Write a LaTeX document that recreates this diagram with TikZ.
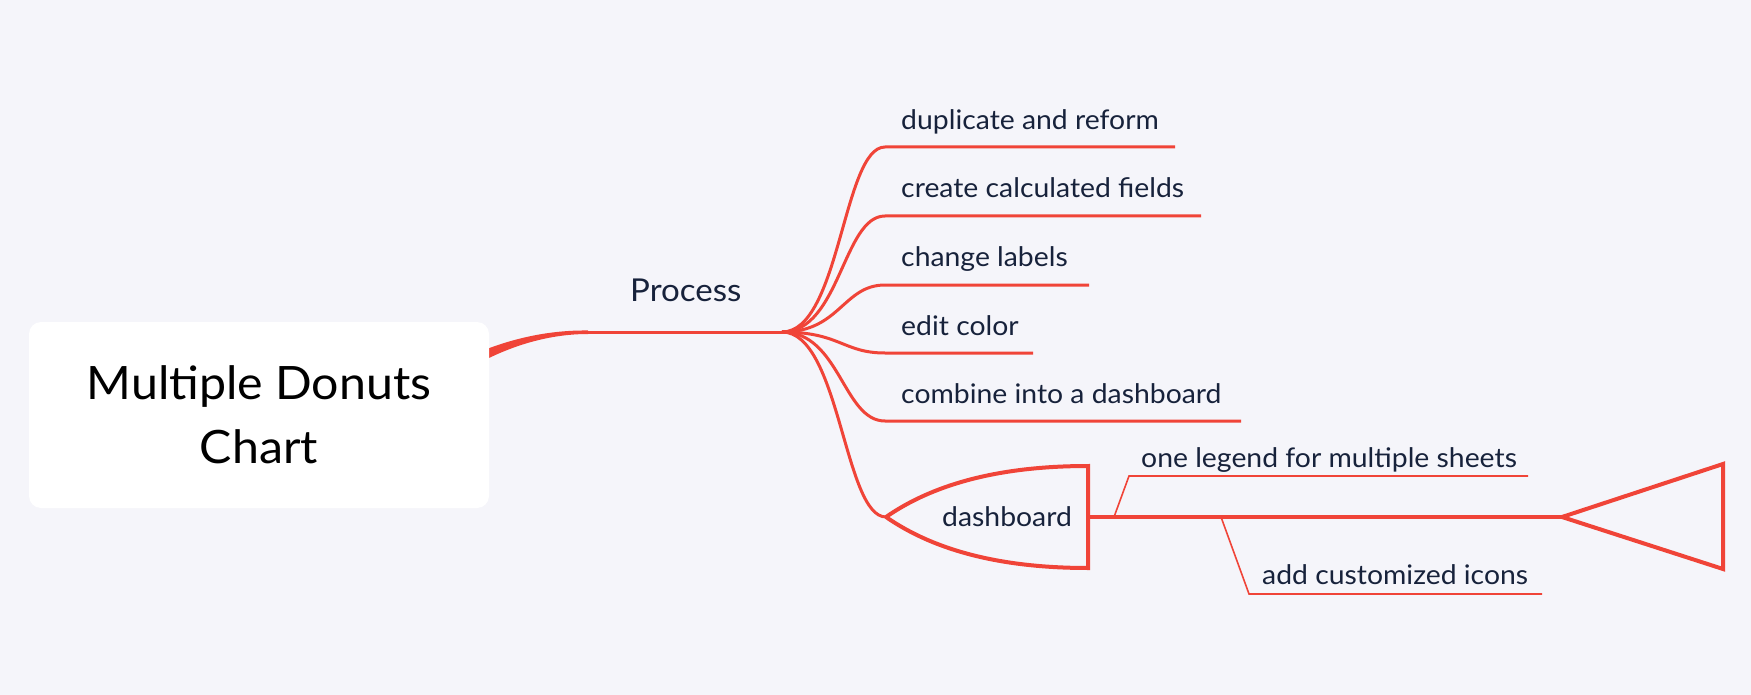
\documentclass[tikz,border=0pt]{standalone}
\usepackage{fontspec}
\setmainfont{Lato}[FakeStretch=1.05]
\usetikzlibrary{calc}
\definecolor{bg}{HTML}{F5F5FA}
\definecolor{mred}{HTML}{F04438}
\definecolor{ink}{HTML}{17223B}
\begin{document}
\begin{tikzpicture}[x=1pt,y=-1pt,
  branch/.style={draw=mred,line width=3pt},
  fine/.style={draw=mred,line width=1.6pt},
  heavy/.style={draw=mred,line width=4pt,line join=miter},
  lbl/.style={text=ink,anchor=base west,inner sep=0pt,font=\fontsize{27}{32}\selectfont}]
\useasboundingbox[fill=bg] (0,0) rectangle (1751,695);
% root connector (taper)
\fill[mred] (470,356) .. controls (510,338) and (550,330) .. (588,330.5)
  -- (588,334) .. controls (550,334) and (510,345) .. (470,368) -- cycle;
% root box
\node[fill=white,rounded corners=12pt,minimum width=460pt,minimum height=186pt,inner sep=0pt] (root) at (259,415) {};
\node[text=black,align=center,font=\fontsize{46}{64}\selectfont,inner sep=0pt] (title) at (259,415) {Multiple Donuts\\Chart};
% process
\coordinate (p0) at (588,332);
\coordinate (fan) at (782,332);
\draw[branch] (p0) -- (fan);
\node[lbl,font=\fontsize{31.5}{36}\selectfont] (process) at (630,301) {Process};
% branch ends
\coordinate (e1) at (885,147);
\coordinate (f1) at (1175,147);
\coordinate (e2) at (885,216);
\coordinate (f2) at (1201,216);
\coordinate (e3) at (885,285);
\coordinate (f3) at (1089,285);
\coordinate (e4) at (885,353);
\coordinate (f4) at (1033,353);
\coordinate (e5) at (885,421);
\coordinate (f5) at (1241,421);
\coordinate (e6) at (886,517);
\foreach \i in {1,...,5}{
  \draw[branch] (fan) .. controls ($(fan)+(58,0)$) and ($(e\i)+(-42,0)$) .. (e\i) -- (f\i);
}
\draw[branch] (fan) .. controls ($(fan)+(58,0)$) and ($(e6)+(-42,0)$) .. (e6);
\node[lbl] (t1) at (901,130) {duplicate and reform};
\node[lbl] (t2) at (901,198) {create calculated fields};
\node[lbl] (t3) at (901,266) {change labels};
\node[lbl] (t4) at (901,335) {edit color};
\node[lbl] (t5) at (901,403) {combine into a dashboard};
% dashboard shape
\coordinate (dtop) at (1088,466);
\coordinate (dbot) at (1088,568);
\draw[heavy] (e6) .. controls (935,483) and (1002,466) .. (dtop) -- (dbot)
  .. controls (1002,568) and (935,551) .. (e6);
\node[lbl] (dash) at (942,526) {dashboard};
% axis and triangle
\coordinate (ax0) at (1088,517);
\coordinate (tl) at (1562,517);
\coordinate (ttop) at (1723,464);
\coordinate (tbot) at (1723,569);
\draw[heavy] (ax0) -- (tl);
\draw[heavy] (tl) -- (ttop) -- (tbot) -- cycle;
% sub-branches
\coordinate (s1a) at (1114,517);
\coordinate (s1b) at (1129,476);
\coordinate (s1c) at (1528,476);
\draw[fine] (s1a) -- (s1b) -- (s1c);
\node[lbl] (u1) at (1141,467) {one legend for multiple sheets};
\coordinate (s2a) at (1221,517);
\coordinate (s2b) at (1249,594);
\coordinate (s2c) at (1542,594);
\draw[fine] (s2a) -- (s2b) -- (s2c);
\node[lbl] (u2) at (1262,584) {add customized icons};
\end{tikzpicture}
\end{document}
